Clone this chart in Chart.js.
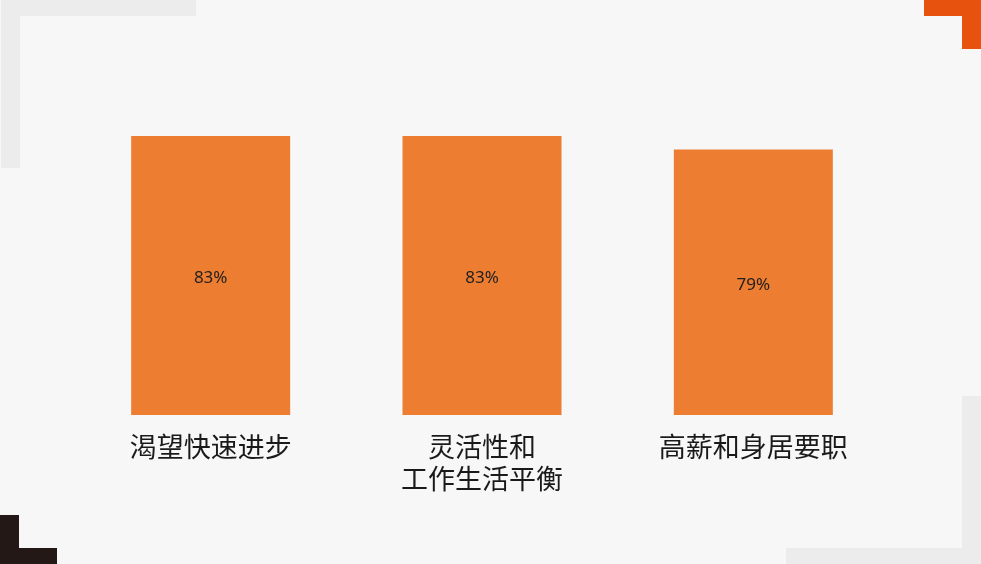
<!DOCTYPE html>
<html>
<head>
<meta charset="utf-8">
<script src="https://cdn.jsdelivr.net/npm/chart.js@4/dist/chart.umd.min.js"></script>
<style>
  html, body { margin: 0; padding: 0; background: #f7f7f7; overflow: hidden; }
  #wrap { position: relative; width: 981px; height: 564px; }
  canvas { position: absolute; left: 0; top: 0; }
  .d { position: absolute; }
</style>
</head>
<body>
<div id="wrap">
  <!-- corner decorations -->
  <div class="d" style="left:1px;top:0;width:195px;height:16px;background:#ececec"></div>
  <div class="d" style="left:1px;top:0;width:19px;height:168px;background:#ececec"></div>
  <div class="d" style="left:924px;top:0;width:57px;height:16px;background:#e8520f"></div>
  <div class="d" style="left:962px;top:0;width:19px;height:49px;background:#e8520f"></div>
  <div class="d" style="left:0;top:515px;width:19px;height:49px;background:#231815"></div>
  <div class="d" style="left:0;top:548px;width:57px;height:16px;background:#231815"></div>
  <div class="d" style="left:962px;top:396px;width:19px;height:168px;background:#ececec"></div>
  <div class="d" style="left:786px;top:548px;width:195px;height:16px;background:#ececec"></div>
  <canvas id="c" width="981" height="564"></canvas>
</div>
<script>
let categories = [['渴望快速进步'], ['灵活性和', '工作生活平衡'], ['高薪和身居要职']];
let values = [83, 83, 79];
let barColor = '#ED7D31';

// draws the % value in the middle of each bar
let barLabels = {
  id: 'barLabels',
  afterDatasetsDraw(chart){
    let ctx = chart.ctx;
    let meta = chart.getDatasetMeta(0);
    ctx.save();
    ctx.font = '17px "Noto Sans", "DejaVu Sans", sans-serif';
    ctx.fillStyle = '#1f1f1f';
    ctx.textAlign = 'center';
    ctx.textBaseline = 'middle';
    meta.data.forEach((bar, i) => {
      let v = chart.data.datasets[0].data[i];
      ctx.fillText(v + '%', bar.x, (bar.y + bar.base) / 2 + 3);
    });
    ctx.restore();
  }
};

let grafica = document.querySelector('#c').getContext('2d');
new Chart(grafica, {
  type: 'bar',
  data: {
    labels: categories,
    datasets: [{
      data: values,
      backgroundColor: barColor,
      categoryPercentage: 1,
      barPercentage: 0.586
    }]
  },
  options: {
    responsive: false,
    animation: false,
    layout: { padding: { left: 75, right: 92, top: 79, bottom: 0 } },
    plugins: { legend: { display: false }, tooltip: { enabled: false } },
    scales: {
      x: {
        grid: { display: false },
        border: { display: false },
        afterFit: s => { s.height = 149; },
        ticks: {
          padding: 8,
          color: '#1a1a1a',
          maxRotation: 0,
          autoSkip: false,
          font: { family: '"Noto Sans CJK SC", sans-serif', size: 27, lineHeight: 1.19 }
        }
      },
      y: {
        display: false,
        min: 0,
        max: 100
      }
    }
  },
  plugins: [barLabels]
});
</script>
</body>
</html>
